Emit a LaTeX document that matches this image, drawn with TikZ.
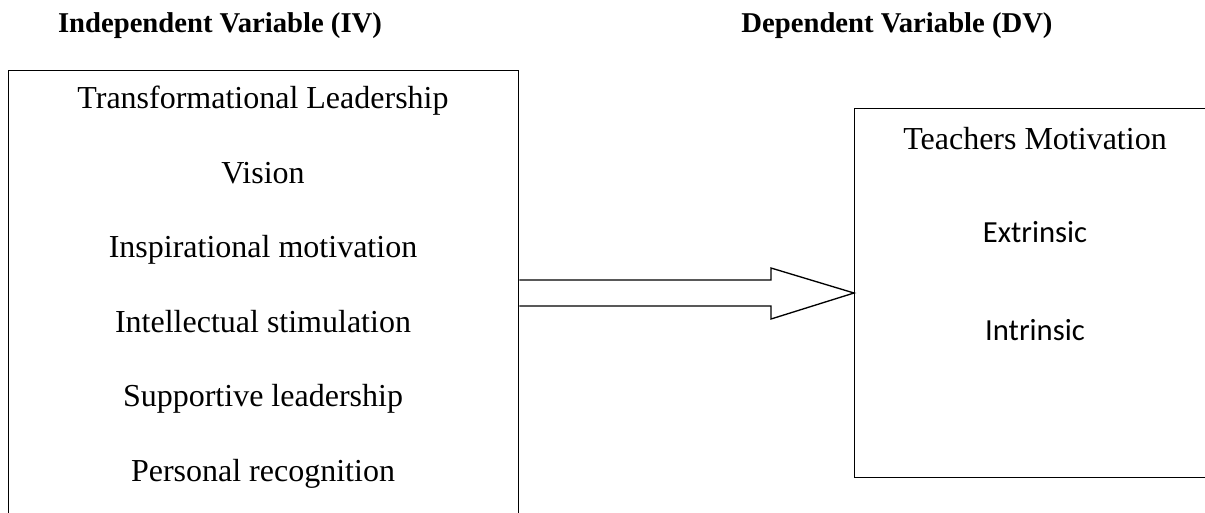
\documentclass[tikz,border=0pt]{standalone}
\usepackage{fontspec}
\setmainfont{Liberation Serif}
\newfontfamily\calib{Carlito}
\begin{document}
\begin{tikzpicture}[x=0.75pt,y=-0.75pt,
  box/.style={draw=black,line width=1pt,inner sep=0pt,anchor=north west},
  item/.style={anchor=base,inner sep=0pt,font=\fontsize{24pt}{28pt}\selectfont},
  sitem/.style={anchor=base,inner sep=0pt,font=\calib\fontsize{23pt}{27pt}\selectfont},
  title/.style={anchor=base,inner sep=0pt,font=\bfseries\fontsize{21.5pt}{25pt}\selectfont},
  blockarrow/.style={draw=black,line width=1pt,line join=miter}]
\useasboundingbox (0,0) rectangle (1205,512);
\clip (0,0) rectangle (1205,512);
\node[title] (tiv) at (220,32) {Independent Variable (IV)};
\node[title] (tdv) at (897,32) {Dependent Variable (DV)};
\node[box,minimum width=382.5pt,minimum height=352.5pt] (iv) at (8,70) {};
\node[box,minimum width=270.75pt,minimum height=276.75pt] (dv) at (854,108) {};
\node[item] (l1) at (263,108.5) {Transformational Leadership};
\node[item] (l2) at (263,183) {Vision};
\node[item] (l3) at (263,257.5) {Inspirational motivation};
\node[item] (l4) at (263,332) {Intellectual stimulation};
\node[item] (l5) at (263,406.5) {Supportive leadership};
\node[item] (l6) at (263,481) {Personal recognition};
\node[item] (r1) at (1035,149) {Teachers Motivation};
\node[sitem] (r2) at (1035,242) {Extrinsic};
\node[sitem] (r3) at (1035,340) {Intrinsic};
\draw[blockarrow] (iv.east |- 0,280) -- (771,280) -- (771,268) -- (dv.west |- 0,293)
  -- (771,319) -- (771,306) -- (iv.east |- 0,306);
\end{tikzpicture}
\end{document}
